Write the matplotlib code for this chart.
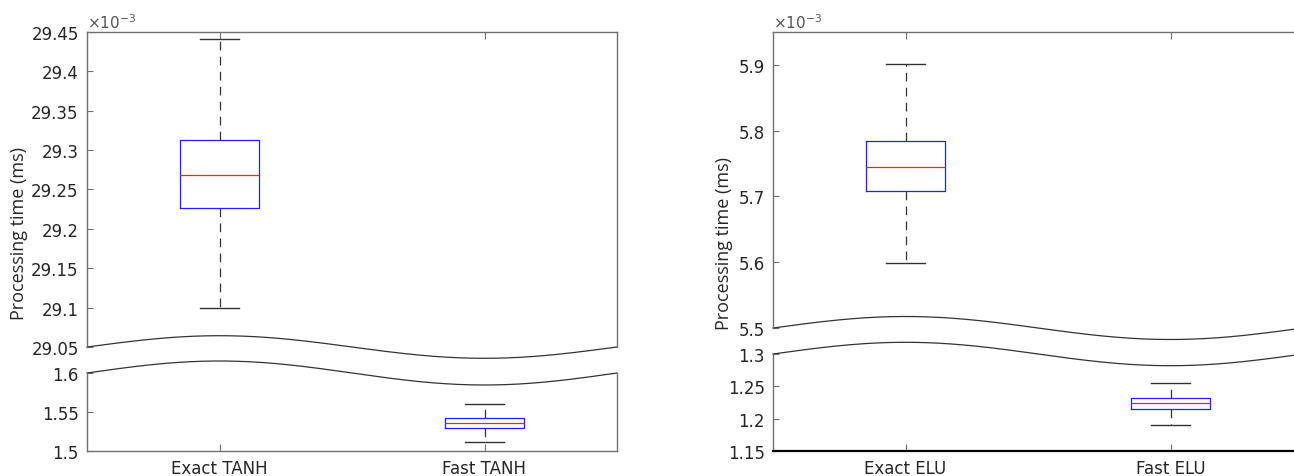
import numpy as np
import matplotlib
matplotlib.use('Agg')
import matplotlib.pyplot as plt
from matplotlib.ticker import FormatStrFormatter

# values in units of 1e-3 ms
tanh_labels = ['Exact TANH', 'Fast TANH']
tanh_med = [29.268, 1.5363]
tanh_q1 = [29.227, 1.5295]
tanh_q3 = [29.313, 1.5419]
tanh_lo = [29.100, 1.5112]
tanh_hi = [29.441, 1.5603]

elu_labels = ['Exact ELU', 'Fast ELU']
elu_med = [5.7445, 1.2240]
elu_q1 = [5.7081, 1.2155]
elu_q3 = [5.7848, 1.2317]
elu_lo = [5.5985, 1.1899]
elu_hi = [5.9010, 1.2546]

W, H = 1294, 477
SPINE = '#707070'
TXT = '#262626'


def px_box(x0, x1, y0, y1):
	# pixel box (top-left origin) -> figure fraction rect
	return [x0 / W, (H - y1) / H, (x1 - x0) / W, (y1 - y0) / H]


def make_stats(med, q1, q3, lo, hi):
	stats = []
	for i in range(len(med)):
		stats.append({'med': med[i], 'q1': q1[i], 'q3': q3[i],
					  'whislo': lo[i], 'whishi': hi[i], 'fliers': []})
	return stats


def draw_boxes(ax, stats):
	ax.bxp(stats, positions=[1, 2], widths=0.3, showfliers=False,
		   boxprops=dict(color='#2020ff', lw=0.9),
		   medianprops=dict(color='#ff2020', lw=0.9),
		   whiskerprops=dict(color='#333333', lw=0.9, linestyle=(0, (7, 5))),
		   capprops=dict(color='#333333', lw=1.0))


def panel(fig, x0, x1, ytop, ybrk1, ybrk2, ybot, ylim_t, ylim_b, ticks_t, ticks_b,
		  labels, stats, amp_t, amp_b, ylab_x, ylab_y, dark_bottom=False):
	ax_t = fig.add_axes(px_box(x0, x1, ytop, ybrk1))
	ax_b = fig.add_axes(px_box(x0, x1, ybrk2, ybot))
	for ax in (ax_t, ax_b):
		draw_boxes(ax, stats)
		ax.set_xlim(0.5, 2.5)
		for s in ax.spines.values():
			s.set_color(SPINE)
			s.set_linewidth(1.0)
		ax.tick_params(axis='y', direction='in', length=4, color=SPINE,
					   labelsize=12, labelcolor=TXT, pad=6)
		ax.yaxis.set_major_formatter(FormatStrFormatter('%g'))
	ax_t.set_ylim(*ylim_t)
	ax_b.set_ylim(*ylim_b)
	ax_t.set_yticks(ticks_t)
	ax_b.set_yticks(ticks_b)

	ax_t.spines['bottom'].set_visible(False)
	ax_t.xaxis.tick_top()
	ax_t.set_xticks([1, 2])
	ax_t.set_xticklabels([])
	ax_t.tick_params(axis='x', direction='in', length=5, color=SPINE)

	ax_b.spines['top'].set_visible(False)
	ax_b.set_xticks([1, 2])
	ax_b.set_xticklabels(labels)
	ax_b.tick_params(axis='x', direction='in', length=5, color=SPINE,
					 labelsize=12, labelcolor=TXT, pad=6)
	if dark_bottom:
		ax_b.spines['bottom'].set_color('black')
		ax_b.spines['bottom'].set_linewidth(1.6)

	# wavy break lines
	xs = np.linspace(0, 1, 300)
	ht = ybrk1 - ytop
	hb = ybot - ybrk2
	ax_t.plot(xs, amp_t / ht * np.sin(2 * np.pi * xs), color='#333333', lw=0.9,
			  transform=ax_t.transAxes, clip_on=False)
	ax_b.plot(xs, 1 + amp_b / hb * np.sin(2 * np.pi * xs), color='#333333', lw=0.9,
			  transform=ax_b.transAxes, clip_on=False)

	ax_t.text(0.0, 1.004, r'$\times$10$^{-3}$', transform=ax_t.transAxes,
			  ha='left', va='bottom', fontsize=11, color='#555555')
	fig.text(ylab_x / W, 1 - ylab_y / H, 'Processing time (ms)', rotation=90,
			 ha='center', va='center', fontsize=13, color=TXT, family='Open Sans')
	return ax_t, ax_b


def main():
	fig = plt.figure(figsize=(W / 100, H / 100), dpi=100)
	panel(fig, 87, 617, 33, 348, 374, 452, (29.05, 29.45), (1.5, 1.6),
		  np.arange(29.05, 29.451, 0.05), [1.5, 1.55, 1.6], tanh_labels,
		  make_stats(tanh_med, tanh_q1, tanh_q3, tanh_lo, tanh_hi), 11.3, 12, 19, 234)
	panel(fig, 773, 1303, 33, 329, 355, 452, (5.5, 5.95), (1.15, 1.3),
		  [5.5, 5.6, 5.7, 5.8, 5.9], [1.15, 1.2, 1.25, 1.3], elu_labels,
		  make_stats(elu_med, elu_q1, elu_q3, elu_lo, elu_hi), 11.5, 11.7, 724, 243,
		  dark_bottom=True)
	fig.savefig('out.png', dpi=100)


if __name__ == '__main__':
	main()
